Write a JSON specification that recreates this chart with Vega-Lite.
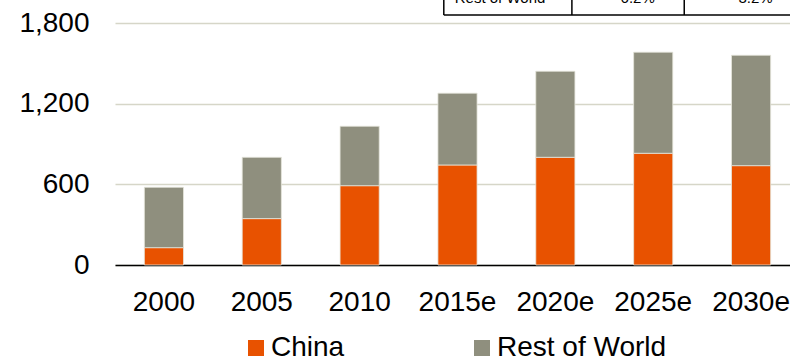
{
  "$schema": "https://vega.github.io/schema/vega-lite/v6.json",
  "autosize": {"type": "none"},
  "width": 685,
  "height": 242,
  "padding": {"left": 115, "top": 23, "right": 0, "bottom": 93},
  "background": "white",
  "config": {
    "view": {"stroke": null},
    "font": "Liberation Sans",
    "axis": {"labelFont": "Liberation Sans", "labelColor": "#000000"},
    "legend": {"labelFont": "Liberation Sans"}
  },
  "datasets": {
    "production": [
      {"year": "2000", "series": "China", "value": 129},
      {"year": "2000", "series": "Rest of World", "value": 449},
      {"year": "2005", "series": "China", "value": 345},
      {"year": "2005", "series": "Rest of World", "value": 456},
      {"year": "2010", "series": "China", "value": 590},
      {"year": "2010", "series": "Rest of World", "value": 442},
      {"year": "2015e", "series": "China", "value": 744},
      {"year": "2015e", "series": "Rest of World", "value": 534},
      {"year": "2020e", "series": "China", "value": 801},
      {"year": "2020e", "series": "Rest of World", "value": 640},
      {"year": "2025e", "series": "China", "value": 831},
      {"year": "2025e", "series": "Rest of World", "value": 752},
      {"year": "2030e", "series": "China", "value": 739},
      {"year": "2030e", "series": "Rest of World", "value": 821}
    ],
    "tableLines": [
      {"x": 48, "x2": 105, "y": 1860, "y2": 1860},
      {"x": 48, "x2": 48, "y": 1860, "y2": 2100},
      {"x": 66.7, "x2": 66.7, "y": 1860, "y2": 2100},
      {"x": 83.1, "x2": 83.1, "y": 1860, "y2": 2100}
    ],
    "tableText": [
      {"label": "Rest of World", "x": 49.6, "y": 1950, "align": "left"},
      {"label": "6.2%", "x": 78.8, "y": 1950, "align": "right"},
      {"label": "3.2%", "x": 96, "y": 1950, "align": "right"}
    ]
  },
  "layer": [
    {
      "data": {"name": "production"},
      "mark": {"type": "bar", "stroke": "#e6e6dc", "strokeWidth": 0.8},
      "encoding": {
        "x": {
          "field": "year",
          "type": "nominal",
          "sort": null,
          "scale": {"paddingInner": 0.6, "paddingOuter": 0.3},
          "axis": {
            "title": null,
            "labelAngle": 0,
            "labelFontSize": 28,
            "labelPadding": 23,
            "ticks": false,
            "domainColor": "#000000",
            "domainWidth": 1.5,
            "grid": false
          }
        },
        "y": {
          "field": "value",
          "type": "quantitative",
          "aggregate": "sum",
          "stack": "zero",
          "scale": {"domain": [0, 1800], "nice": false},
          "axis": {
            "title": null,
            "values": [0, 600, 1200, 1800],
            "format": ",.0f",
            "labelFontSize": 28,
            "labelPadding": 26,
            "ticks": false,
            "domain": false,
            "grid": true,
            "gridColor": "#d6d6c8",
            "gridWidth": 1.5
          }
        },
        "order": {"field": "series", "sort": "ascending"},
        "color": {
          "field": "series",
          "type": "nominal",
          "scale": {"domain": ["China", "Rest of World"], "range": ["#e85200", "#8f8f7e"]},
          "legend": {
            "title": null,
            "orient": "none",
            "legendX": 127,
            "legendY": 311,
            "direction": "horizontal",
            "symbolType": "square",
            "symbolSize": 256,
            "symbolStrokeWidth": 0,
            "labelFontSize": 28,
            "labelLimit": 400,
            "labelColor": "#000000",
            "labelOffset": 1,
            "columnPadding": 123,
            "padding": 0
          }
        }
      }
    },
    {
      "data": {"name": "tableLines"},
      "mark": {"type": "rule", "color": "#000000", "strokeWidth": 1.5},
      "encoding": {
        "x": {"field": "x", "type": "quantitative", "scale": {"domain": [0, 100]}, "axis": null},
        "x2": {"field": "x2"},
        "y": {"field": "y", "type": "quantitative"},
        "y2": {"field": "y2"}
      }
    },
    {
      "data": {"name": "tableText"},
      "transform": [{"filter": "datum.align == 'left'"}],
      "mark": {"type": "text", "align": "left", "baseline": "alphabetic", "fontSize": 15, "color": "#000000"},
      "encoding": {
        "x": {"field": "x", "type": "quantitative", "scale": {"domain": [0, 100]}, "axis": null},
        "y": {"field": "y", "type": "quantitative"},
        "text": {"field": "label"}
      }
    },
    {
      "data": {"name": "tableText"},
      "transform": [{"filter": "datum.align == 'right'"}],
      "mark": {"type": "text", "align": "right", "baseline": "alphabetic", "fontSize": 15, "color": "#000000"},
      "encoding": {
        "x": {"field": "x", "type": "quantitative", "scale": {"domain": [0, 100]}, "axis": null},
        "y": {"field": "y", "type": "quantitative"},
        "text": {"field": "label"}
      }
    }
  ],
  "resolve": {"scale": {"x": "independent"}}
}
